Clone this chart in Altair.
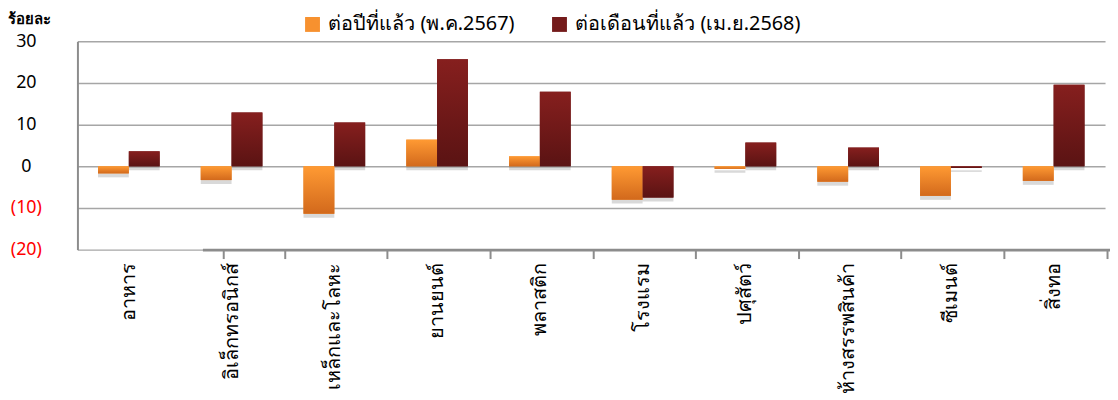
import altair as alt
import pandas as pd

categories = ["อาหาร", "อิเล็กทรอนิกส์", "เหล็กและโลหะ", "ยานยนต์", "พลาสติก",
              "โรงแรม", "ปศุสัตว์", "ห้างสรรพสินค้า", "ซีเมนต์", "สิ่งทอ"]
series = ["ต่อปีที่แล้ว (พ.ค.2567)", "ต่อเดือนที่แล้ว (เม.ย.2568)"]
yoy = [-1.7, -3.3, -11.4, 6.4, 2.4, -8.0, -0.6, -3.7, -7.1, -3.5]
mom = [3.6, 12.9, 10.5, 25.7, 17.9, -7.5, 5.7, 4.5, -0.4, 19.6]
y_ticks = [-20, -10, 0, 10, 20, 30]

rows = []
for c, a, b in zip(categories, yoy, mom):
    rows.append({"cat": c, "series": series[0], "value": a})
    rows.append({"cat": c, "series": series[1], "value": b})
df = pd.DataFrame(rows)

FONT = "Noto Sans"
W, H = 1036, 210
ZERO_POS = H * 30 / 50

x_scale = alt.Scale(domain=categories, paddingInner=0.4, paddingOuter=0.2)
xo = alt.XOffset("series:N", scale=alt.Scale(domain=series))

y_axis = alt.Axis(
    values=y_ticks, title="ร้อยละ", titleAngle=0, titleAlign="left",
    titleBaseline="alphabetic", titleX=-70, titleY=-18, titleFontSize=15,
    titleFontWeight="bold", titleFont=FONT, titleColor="black",
    labelAlign="center", labelPadding=52, labelFontSize=18, labelFont=FONT,
    labelFontWeight="normal",
    labelExpr="datum.value < 0 ? '(' + abs(datum.value) + ')' : datum.value",
    labelColor=alt.condition("datum.value < 0", alt.value("#FF0000"), alt.value("black")),
    ticks=False, domain=True, domainColor="#8c8c8c", domainWidth=2,
    grid=True, gridColor="#a6a6a6", gridWidth=1.5,
)
y_enc = alt.Y("value:Q", scale=alt.Scale(domain=[-20, 30], nice=False, zero=False), axis=y_axis)

zero_axis = alt.Axis(
    labels=False, title=None, grid=False, domain=True, domainColor="#8c8c8c",
    domainWidth=3, ticks=True, tickColor="#8c8c8c", tickWidth=2, tickSize=9,
    tickBand="extent", position=ZERO_POS, zindex=1, orient="bottom",
)
label_axis = alt.Axis(
    title=None, labelAngle=270, domain=False, ticks=False, grid=False,
    labelPadding=13, labelFontSize=20, labelFont=FONT, labelColor="black",
    labelFontWeight="normal", orient="bottom", labelLimit=300,
)

shadow = alt.Chart(df).mark_bar(color="black", opacity=0.15, xOffset=3, yOffset=4).encode(
    x=alt.X("cat:N", scale=x_scale, sort=categories, axis=zero_axis),
    xOffset=xo, y=y_enc,
)

solid = alt.Chart(df).mark_bar().encode(
    x=alt.X("cat:N", scale=x_scale, sort=categories, axis=label_axis),
    xOffset=xo, y=y_enc,
    color=alt.Color("series:N", scale=alt.Scale(domain=series, range=["#F7912F", "#741B1B"]),
                    legend=alt.Legend(title=None, orient="none", legendX=227, legendY=-27,
                                      direction="horizontal", symbolType="square",
                                      symbolSize=225, labelFontSize=20, labelFont=FONT,
                                      labelFontWeight="normal",
                                      labelColor="black", columnPadding=36, labelOffset=6,
                                      symbolStrokeWidth=0, labelLimit=400, padding=0)),
)

grad_orange = alt.Gradient(gradient="linear", x1=0, x2=0, y1=0, y2=1, stops=[
    alt.GradientStop(color="#FF9A33", offset=0), alt.GradientStop(color="#D2691C", offset=1)])
grad_red = alt.Gradient(gradient="linear", x1=0, x2=0, y1=0, y2=1, stops=[
    alt.GradientStop(color="#861F1E", offset=0), alt.GradientStop(color="#5A1313", offset=1)])

g1 = alt.Chart(df).transform_filter(alt.datum.series == series[0]).mark_bar(color=grad_orange).encode(
    x=alt.X("cat:N", scale=x_scale, sort=categories, axis=None), xOffset=xo, y=y_enc)
g2 = alt.Chart(df).transform_filter(alt.datum.series == series[1]).mark_bar(color=grad_red).encode(
    x=alt.X("cat:N", scale=x_scale, sort=categories, axis=None), xOffset=xo, y=y_enc)

chart = alt.layer(shadow, solid, g1, g2).resolve_axis(x="independent").properties(
    width=W, height=H,
    padding={"left": 70, "top": 32, "right": 5, "bottom": 150},
    autosize=alt.AutoSizeParams(type="none"),
).configure_view(stroke=None)

chart.save("out.html", embed_options={"renderer": "svg", "actions": False})
